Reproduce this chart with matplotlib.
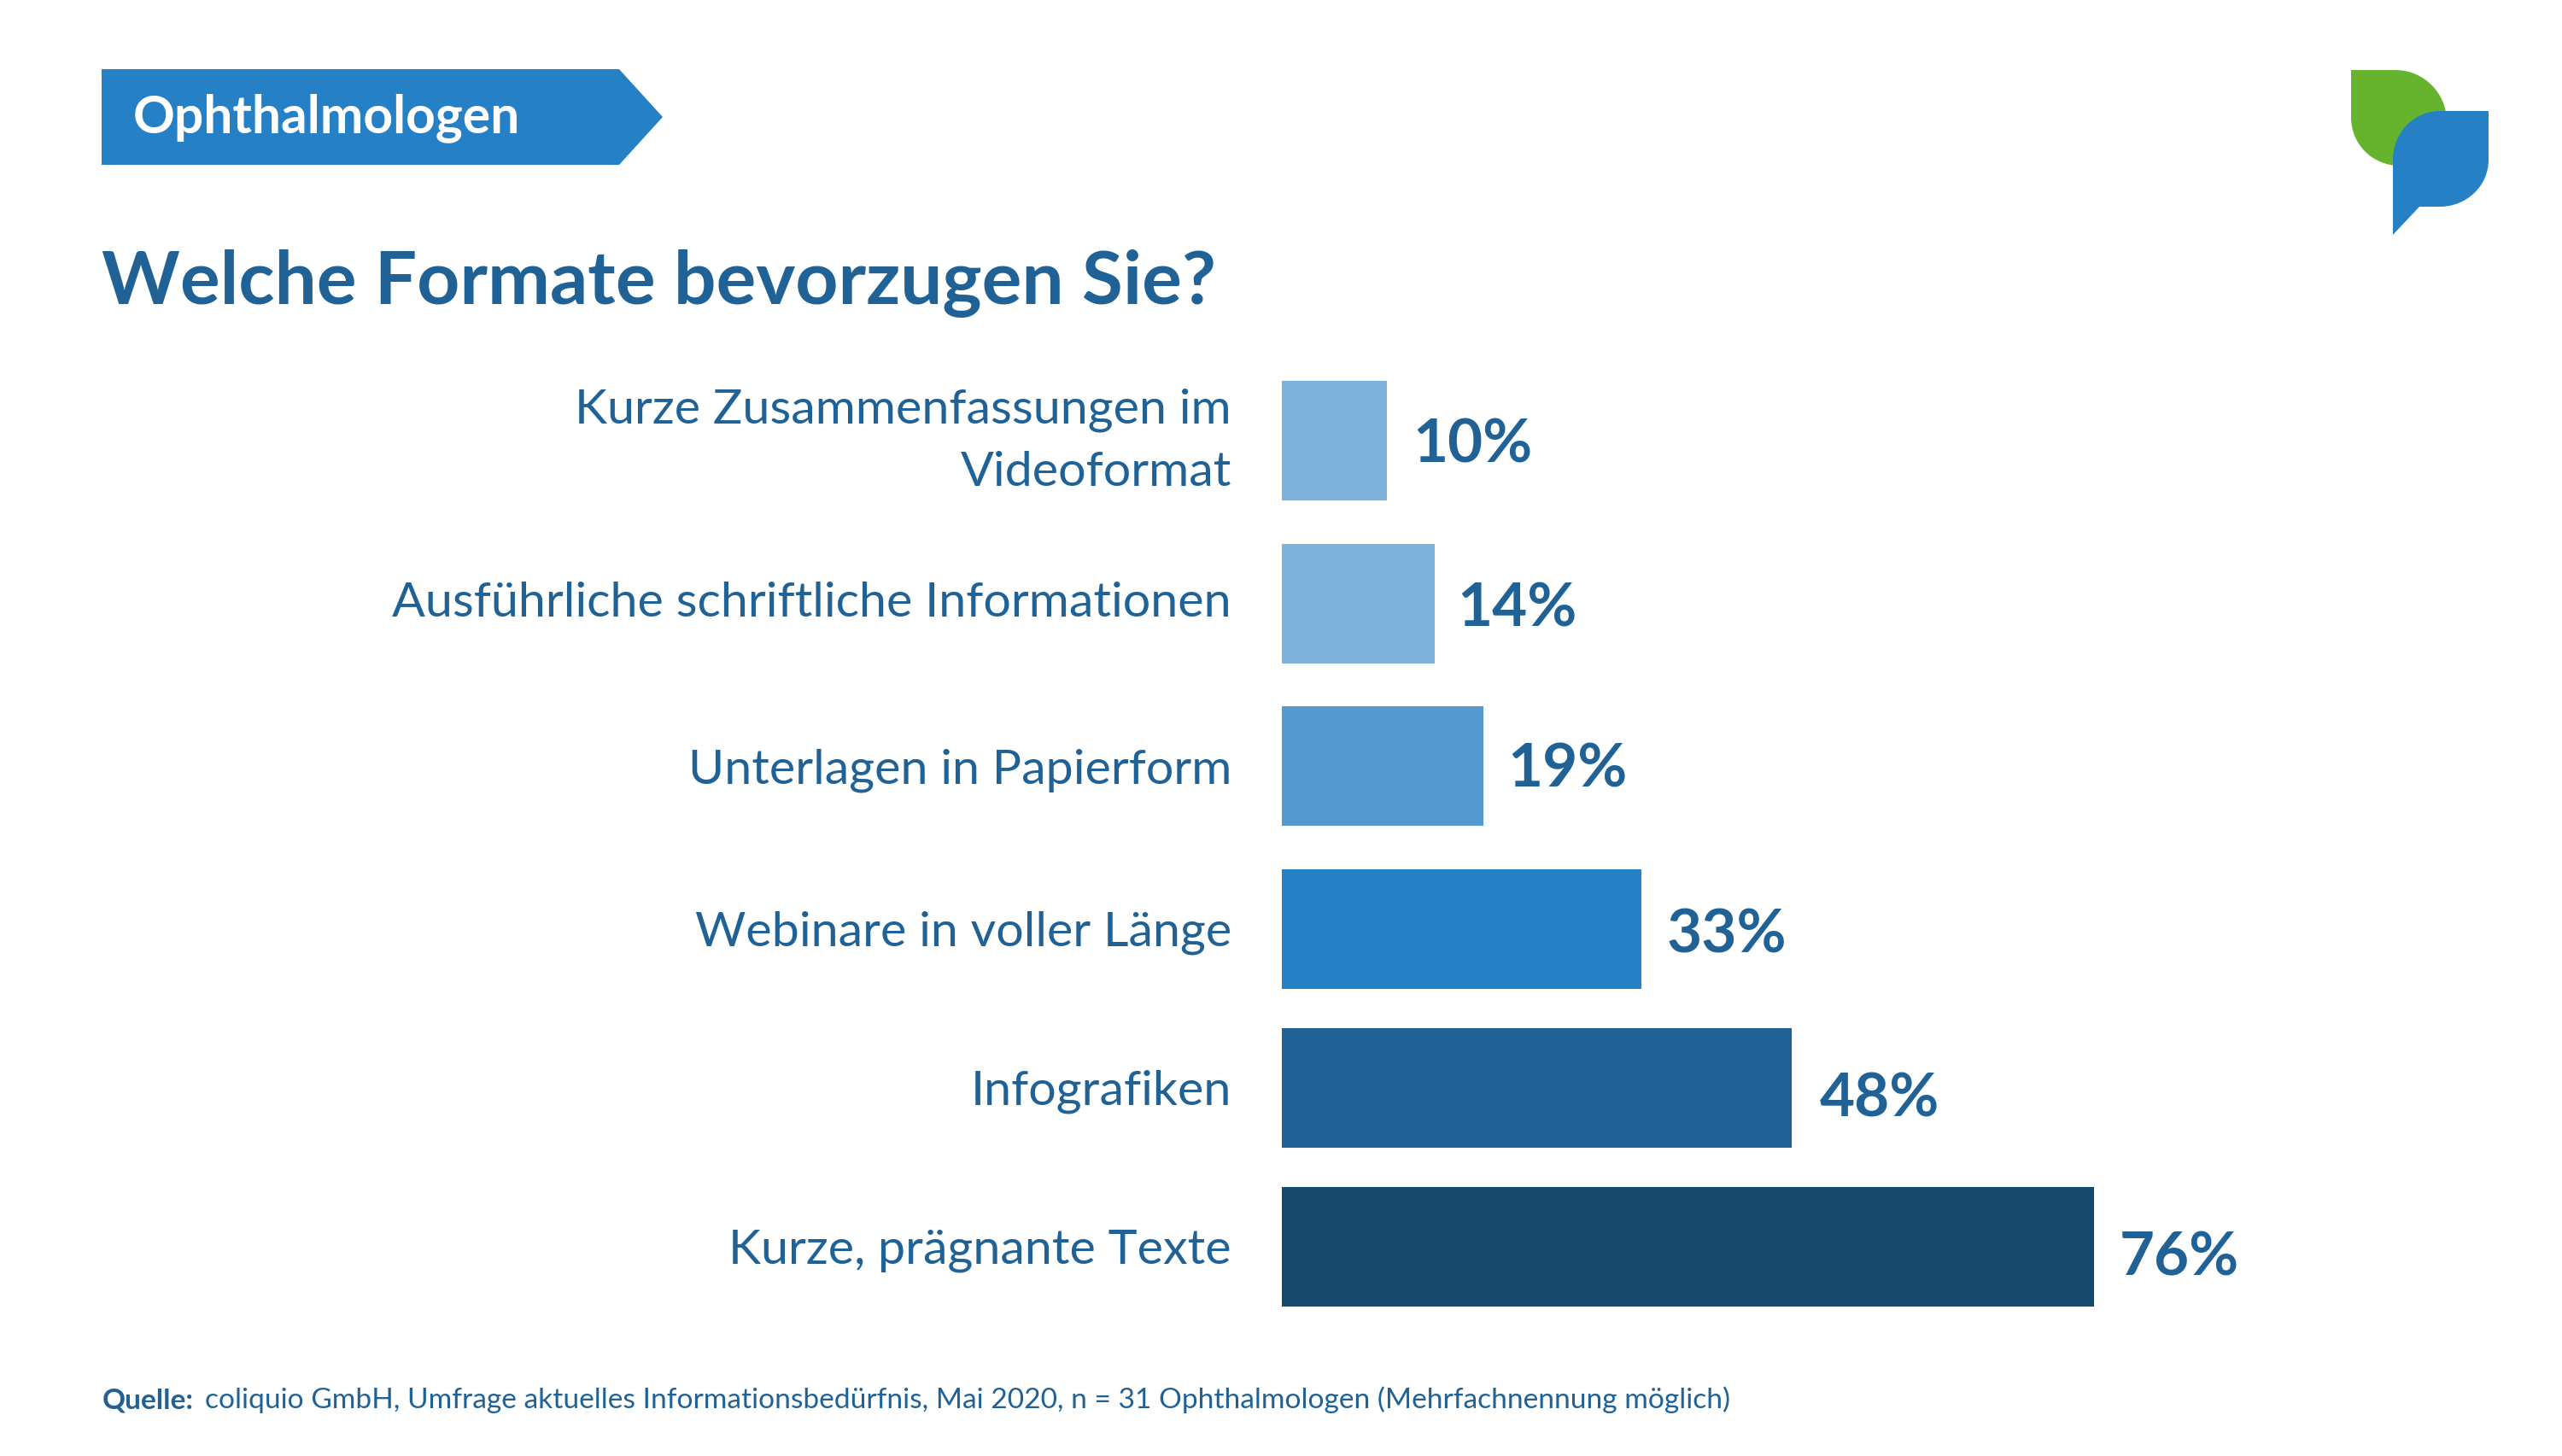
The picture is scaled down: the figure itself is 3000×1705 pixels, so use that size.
import matplotlib
matplotlib.use('Agg')
import matplotlib.pyplot as plt
from matplotlib.patches import PathPatch, Polygon
from matplotlib.path import Path

# data
categories = ['Kurze Zusammenfassungen im\nVideoformat', 'Ausführliche schriftliche Informationen',
              'Unterlagen in Papierform', 'Webinare in voller Länge', 'Infografiken', 'Kurze, prägnante Texte']
bar_values = [9.8, 14.3, 18.8, 33.6, 47.6, 75.8]
value_labels = ['10%', '14%', '19%', '33%', '48%', '76%']
bar_colors = ['#7DB2DC', '#7DB2DC', '#5499D0', '#2680C5', '#206295', '#15496E']

# layout in pixels of the 3000x1705 picture
W, H = 3000, 1705
bar_left = 1501
px_per_pct = 12.54
bar_y = [516, 706.5, 897, 1088, 1274, 1459.5]
bar_h = 140
label_base = [None, 722, 917, 1107, 1293, 1479]
value_base = [542, 733, 921, 1116, 1307, 1494]
value_gap = [30, 26, 29, 29, 33, 30]

TEXT = '#206295'
BLUE = '#2680C5'
GREEN = '#66B32E'
FONT = 'Lato'

plt.rcParams['font.family'] = FONT
fig = plt.figure(figsize=(15, 8.525), dpi=200)

# page axes in pixels, for the banner, logo and texts
page = fig.add_axes([0, 0, 1, 1])
page.set_xlim(0, W)
page.set_ylim(H, 0)
page.axis('off')

# bars, x in percent, y in pixels
ax = fig.add_axes([bar_left / W, 0, 100 * px_per_pct / W, 1])
ax.set_xlim(0, 100)
ax.set_ylim(H, 0)
ax.axis('off')
ax.barh(bar_y, bar_values, height=bar_h, color=bar_colors, linewidth=0)

for i, lab in enumerate(categories):
    if i == 0:
        first, second = lab.split('\n')
        page.text(1442, 496, first, ha='right', va='baseline', fontsize=20.65, color=TEXT)
        page.text(1442, 569, second, ha='right', va='baseline', fontsize=20.65, color=TEXT)
    else:
        page.text(1442, label_base[i], lab, ha='right', va='baseline', fontsize=20.65, color=TEXT)
    x = bar_left + bar_values[i] * px_per_pct + value_gap[i]
    page.text(x, value_base[i], value_labels[i], ha='left', va='baseline', fontsize=25.5,
              fontweight='bold', color=TEXT)

# banner
page.add_patch(Polygon([(119, 81), (725, 81), (776, 137), (725, 193), (119, 193)],
                       closed=True, facecolor=BLUE, edgecolor='none'))
page.text(156, 155, 'Ophthalmologen', ha='left', va='baseline', fontsize=21.8,
          fontweight='bold', color='white')

# title
page.text(119, 356, 'Welche Formate bevorzugen Sie?', ha='left', va='baseline', fontsize=31.45,
          fontweight='bold', color=TEXT)

# logo, round corners as bezier arcs
c = Path.CURVE4
green = Path([(2753, 82), (2805, 82), (2838, 82), (2865, 109), (2865, 142), (2865, 194), (2810, 194),
              (2778, 194), (2753, 169), (2753, 137), (2753, 82)],
             [Path.MOVETO, Path.LINETO, c, c, c, Path.LINETO, Path.LINETO, c, c, c, Path.CLOSEPOLY])
page.add_patch(PathPatch(green, facecolor=GREEN, edgecolor='none'))
blue = Path([(2914, 130), (2914, 187), (2914, 218), (2888, 242), (2857, 242), (2833, 242), (2802, 275),
             (2802, 187), (2802, 156), (2826, 130), (2857, 130), (2914, 130)],
            [Path.MOVETO, Path.LINETO, c, c, c, Path.LINETO, Path.LINETO, Path.LINETO,
             c, c, c, Path.CLOSEPOLY])
page.add_patch(PathPatch(blue, facecolor=BLUE, edgecolor='none'))

# source line
page.text(120, 1649, 'Quelle:', ha='left', va='baseline', fontsize=12.05, fontweight='bold', color=TEXT)
page.text(240, 1649, 'coliquio GmbH, Umfrage aktuelles Informationsbedürfnis, Mai 2020, n = 31 Ophthalmologen (Mehrfachnennung möglich)',
          ha='left', va='baseline', fontsize=12.05, color=TEXT)

fig.savefig('out.png', dpi=200)
